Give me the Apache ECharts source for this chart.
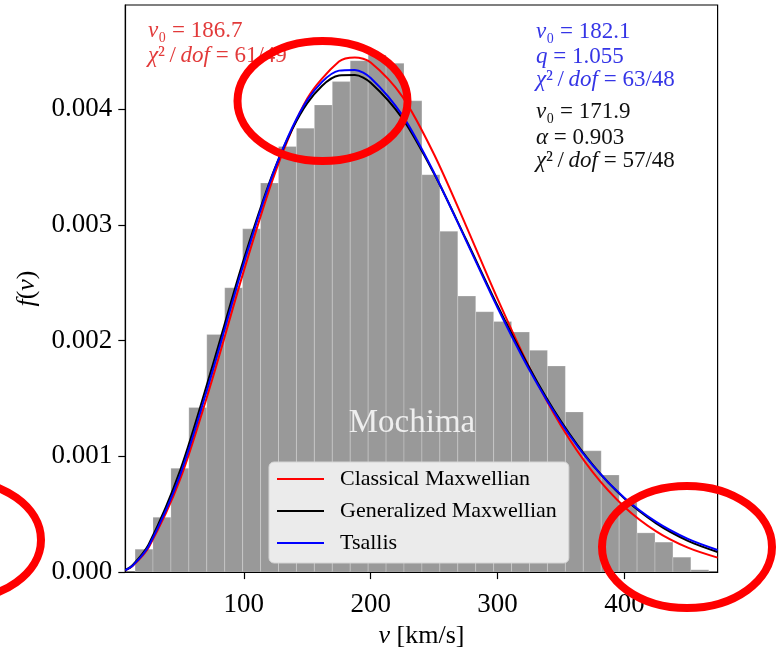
<!DOCTYPE html>
<html><head><meta charset="utf-8">
<script src="https://cdn.jsdelivr.net/npm/echarts@6/dist/echarts.min.js"></script>
<style>html,body{margin:0;padding:0;background:#fff}#c{width:779px;height:654px}</style>
</head><body><div id="c"></div>
<script>
// Histogram bin edges (km/s) and densities
const binEdges = [14.3, 28.43, 42.56, 56.69, 70.82, 84.95, 99.08, 113.21, 127.34, 141.47, 155.6, 169.73, 183.86, 197.99, 212.12, 226.25, 240.38, 254.51, 268.64, 282.77, 296.9, 311.03, 325.16, 339.29, 353.42, 367.55, 381.68, 395.81, 409.94, 424.07, 438.2, 452.33, 466.46];
const binHeights = [0.000198, 0.000474, 0.000897, 0.001422, 0.002054, 0.002457, 0.002966, 0.003362, 0.003678, 0.003836, 0.004037, 0.004238, 0.004419, 0.004468, 0.004397, 0.004072, 0.003434, 0.002945, 0.002385, 0.002250, 0.002166, 0.002074, 0.001916, 0.001781, 0.001384, 0.001048, 0.000839, 0.000603, 0.000339, 0.000259, 0.000129, 0.000020];
// Fitted curves
const curveV = [6.6, 12.5, 25, 50, 75, 100, 125, 150, 175, 187.5, 200, 225, 250, 275, 300, 325, 350, 375, 400, 425, 450, 473.4];
const classical   = [0.0000151, 0.0000539, 0.000213, 0.000807, 0.001660, 0.002603, 0.003461, 0.004092, 0.004411, 0.004447, 0.004403, 0.004108, 0.003608, 0.002996, 0.002360, 0.001769, 0.001264, 0.000863, 0.000563, 0.000352, 0.000211, 0.000125];
const generalized = [0.0000171, 0.0000610, 0.000239, 0.000884, 0.001770, 0.002703, 0.003504, 0.004052, 0.004291, 0.004295, 0.004229, 0.003920, 0.003442, 0.002878, 0.002301, 0.001766, 0.001302, 0.000926, 0.000635, 0.000421, 0.000270, 0.000174];
const tsallis     = [0.0000159, 0.0000569, 0.000224, 0.000845, 0.001723, 0.002669, 0.003500, 0.004078, 0.004333, 0.004339, 0.004270, 0.003946, 0.003449, 0.002869, 0.002284, 0.001748, 0.001291, 0.000923, 0.000641, 0.000434, 0.000287, 0.000191];
const xTicks = [100, 200, 300, 400];
const yTicks = [0, 0.001, 0.002, 0.003, 0.004];
const seriesNames = ['Classical Maxwellian', 'Generalized Maxwellian', 'Tsallis'];
const seriesColors = ['#ff0000', '#000000', '#0000ff'];

const F = "'Liberation Serif','DejaVu Serif',serif";
const chart = echarts.init(document.getElementById('c'), null, {renderer: 'canvas'});

const histData = binHeights.map((h, i) => [binEdges[i], binEdges[i + 1], h]);
const curves = [classical, generalized, tsallis];

const lineSeries = curves.map((arr, k) => ({
  type: 'line', name: seriesNames[k], data: curveV.map((v, i) => [v, arr[i]]),
  symbol: 'none', smooth: 0.3, z: 3 + k,
  lineStyle: {color: seriesColors[k], width: 2}, itemStyle: {color: seriesColors[k]}
}));

function annText(text, x, y, color, z) {
  return {type: 'text', x: x, y: y, z: z || 50,
    style: {text: text, fill: color, fontSize: 23, fontFamily: F, textVerticalAlign: 'middle', textAlign: 'left',
      rich: {
        i: {fontStyle: 'italic', fontSize: 23, fontFamily: F, fill: color, color: color},
        n: {fontSize: 23, fontFamily: F, fill: color, color: color}
      }}};
}
const red = '#e23a3a', blue = '#3535e6', blk = '#111111';

chart.setOption({
  animation: false,
  grid: {left: 125.3, right: 61.4, top: 5, bottom: 80.7, show: true, borderColor: '#000', borderWidth: 1.2, backgroundColor: '#fff'},
  xAxis: {
    type: 'value', min: 6.6, max: 473.4,
    name: '{i|v} [km/s]', nameLocation: 'middle', nameGap: 46,
    nameTextStyle: {fontSize: 26, fontFamily: F, color: '#000', rich: {i: {fontStyle: 'italic', fontSize: 26, fontFamily: F, color: '#000'}}},
    axisLine: {show: true, onZero: false, lineStyle: {color: '#000', width: 1.2}},
    axisTick: {show: true, inside: false, length: 7, lineStyle: {color: '#000', width: 1.2}, customValues: xTicks},
    axisLabel: {fontSize: 27, fontFamily: F, color: '#000', margin: 19, customValues: xTicks},
    splitLine: {show: false}
  },
  yAxis: {
    type: 'value', min: 0, max: 0.0049,
    name: '{i|f}({i|v})', nameLocation: 'middle', nameGap: 80,
    nameTextStyle: {fontSize: 26, fontFamily: F, color: '#000', rich: {i: {fontStyle: 'italic', fontSize: 26, fontFamily: F, color: '#000'}}},
    axisLine: {show: true, onZero: false, lineStyle: {color: '#000', width: 1.2}},
    axisTick: {show: true, inside: false, length: 7, lineStyle: {color: '#000', width: 1.2}, customValues: yTicks},
    axisLabel: {fontSize: 27, fontFamily: F, color: '#000', margin: 13, customValues: yTicks, formatter: v => v.toFixed(3)},
    splitLine: {show: false}
  },
  legend: {
    data: seriesNames, orient: 'vertical', left: 269, top: 462,
    icon: 'rect', itemWidth: 47, itemHeight: 2, itemGap: 10, padding: [6, 12, 9, 8],
    backgroundColor: '#ebebeb', borderColor: '#d4d4d4', borderWidth: 1, borderRadius: 5,
    textStyle: {fontSize: 22, fontFamily: F, color: '#000', padding: [0, 0, 0, 11]}
  },
  series: [{
    type: 'custom', name: 'hist', data: histData, encode: {x: [0, 1], y: 2}, z: 2, clip: true,
    renderItem: function (params, api) {
      const p0 = api.coord([api.value(0), api.value(2)]);
      const p1 = api.coord([api.value(1), 0]);
      return {type: 'rect', shape: {x: p0[0], y: p0[1], width: p1[0] - p0[0], height: p1[1] - p0[1]},
        style: {fill: '#999999', stroke: 'rgba(255,255,255,0.22)', lineWidth: 1}};
    }
  }].concat(lineSeries),
  graphic: [
    {type: 'text', x: 412, y: 423, z: 20, style: {text: 'Mochima', fill: '#eeeeee', fontSize: 33, fontFamily: F, textAlign: 'center', textVerticalAlign: 'middle'}},
    annText('{i|v}₀ = 186.7', 148, 31, red),
    annText('{i|χ}²\u2009/\u2009{i|dof} = 61/49', 148, 56, red),
    annText('{i|v}₀ = 182.1', 536, 32, blue),
    annText('{i|q} = 1.055', 536, 57, blue),
    annText('{i|χ}²\u2009/\u2009{i|dof} = 63/48', 536, 80, blue),
    annText('{i|v}₀ = 171.9', 536, 112, blk),
    annText('{i|α} = 0.903', 536, 138, blk),
    annText('{i|χ}²\u2009/\u2009{i|dof} = 57/48', 536, 161, blk),
    {type: 'ellipse', z: 100, shape: {cx: 322.5, cy: 101, rx: 85, ry: 60}, style: {fill: 'none', stroke: '#ff0000', lineWidth: 8}},
    {type: 'ellipse', z: 100, shape: {cx: -44, cy: 540, rx: 85, ry: 60}, style: {fill: 'none', stroke: '#ff0000', lineWidth: 8}},
    {type: 'ellipse', z: 100, shape: {cx: 687, cy: 547, rx: 85, ry: 61}, style: {fill: 'none', stroke: '#ff0000', lineWidth: 8}}
  ]
});
</script></body></html>
